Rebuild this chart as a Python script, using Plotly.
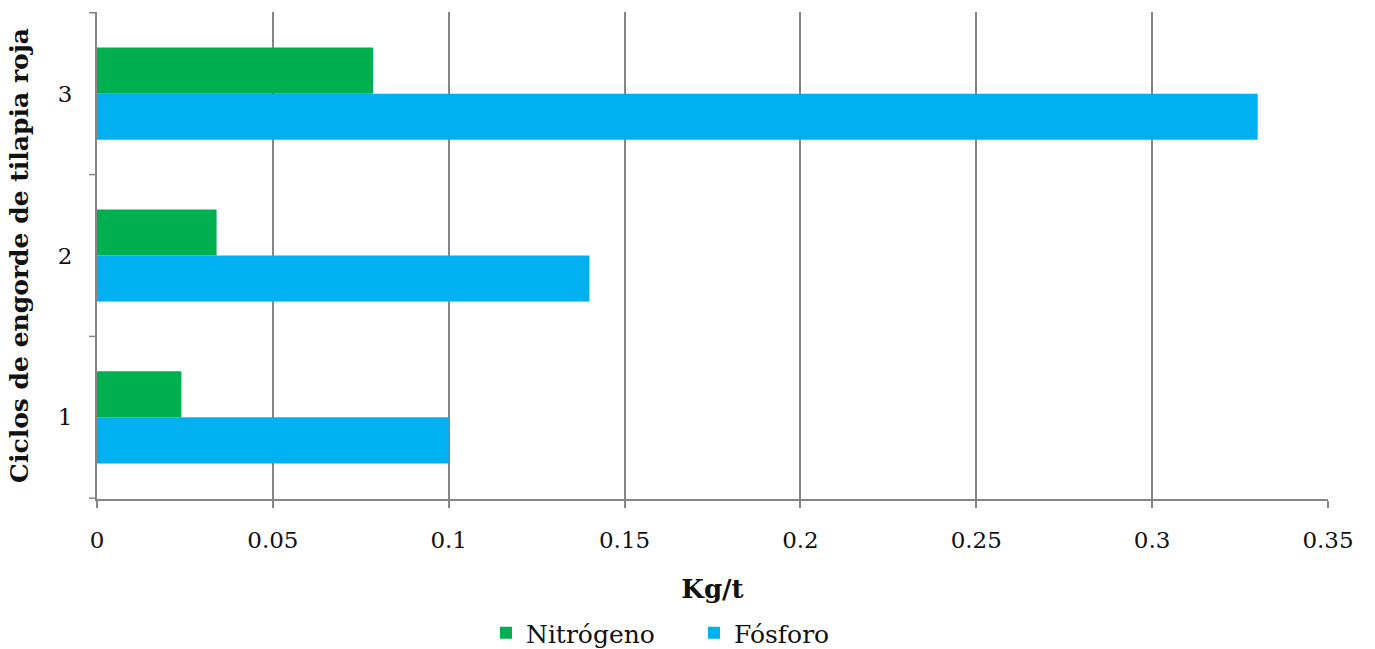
import plotly.graph_objects as go

ciclos = ["1", "2", "3"]
nitrogeno = [0.024, 0.034, 0.0785]
fosforo = [0.10, 0.14, 0.33]
x_ticks = [0, 0.05, 0.1, 0.15, 0.2, 0.25, 0.3, 0.35]
x_tick_labels = ["0", "0.05", "0.1", "0.15", "0.2", "0.25", "0.3", "0.35"]

FONT = "DejaVu Serif"
AXIS_GREY = "#868686"

fig = go.Figure()
fig.add_trace(go.Bar(
    y=ciclos, x=fosforo, name="Fósforo", orientation="h",
    marker=dict(color="#00B0F0", line=dict(width=0)),
))
fig.add_trace(go.Bar(
    y=ciclos, x=nitrogeno, name="Nitrógeno", orientation="h",
    marker=dict(color="#00B050", line=dict(width=0)),
))

fig.update_layout(
    width=1375, height=649,
    margin=dict(l=97, r=47, t=12, b=150, autoexpand=False),
    paper_bgcolor="white", plot_bgcolor="white",
    barmode="group", bargap=0.43, bargroupgap=0,
    font=dict(family=FONT, size=23, color="#111111"),
    showlegend=True,
    legend=dict(
        orientation="h", traceorder="reversed",
        x=486 / 1375, xanchor="left", xref="container",
        y=1 - 633 / 649, yanchor="middle", yref="container",
        font=dict(family=FONT, size=25),
        itemwidth=30, itemsizing="constant",
        entrywidth=163, entrywidthmode="pixels",
    ),
    xaxis=dict(
        range=[0, 0.35], tickmode="array", tickvals=x_ticks, ticktext=x_tick_labels,
        showgrid=True, gridcolor=AXIS_GREY, gridwidth=1.5,
        showline=True, linecolor=AXIS_GREY, linewidth=2,
        ticks="outside", ticklen=7, tickcolor=AXIS_GREY, tickwidth=1.5,
        zeroline=False, automargin=False,
        tickfont=dict(family=FONT, size=23), ticklabelstandoff=12,
        title=dict(text="<b>Kg/t</b>", font=dict(family=FONT, size=26), standoff=28),
    ),
    yaxis=dict(
        showgrid=False, showline=True, linecolor=AXIS_GREY, linewidth=2,
        ticks="", tickfont=dict(family=FONT, size=23), ticklabelstandoff=18,
        automargin=False,
        title=dict(text="<b>Ciclos de engorde de tilapia roja</b>",
                   font=dict(family=FONT, size=25), standoff=22),
    ),
)

# category boundary ticks on the y axis
for b in [-0.5, 0.5, 1.5, 2.5]:
    fig.add_shape(type="line", xref="paper", yref="y",
                  x0=-0.0065, x1=0, y0=b, y1=b,
                  line=dict(color=AXIS_GREY, width=1.5))

fig.write_html("out.html")
